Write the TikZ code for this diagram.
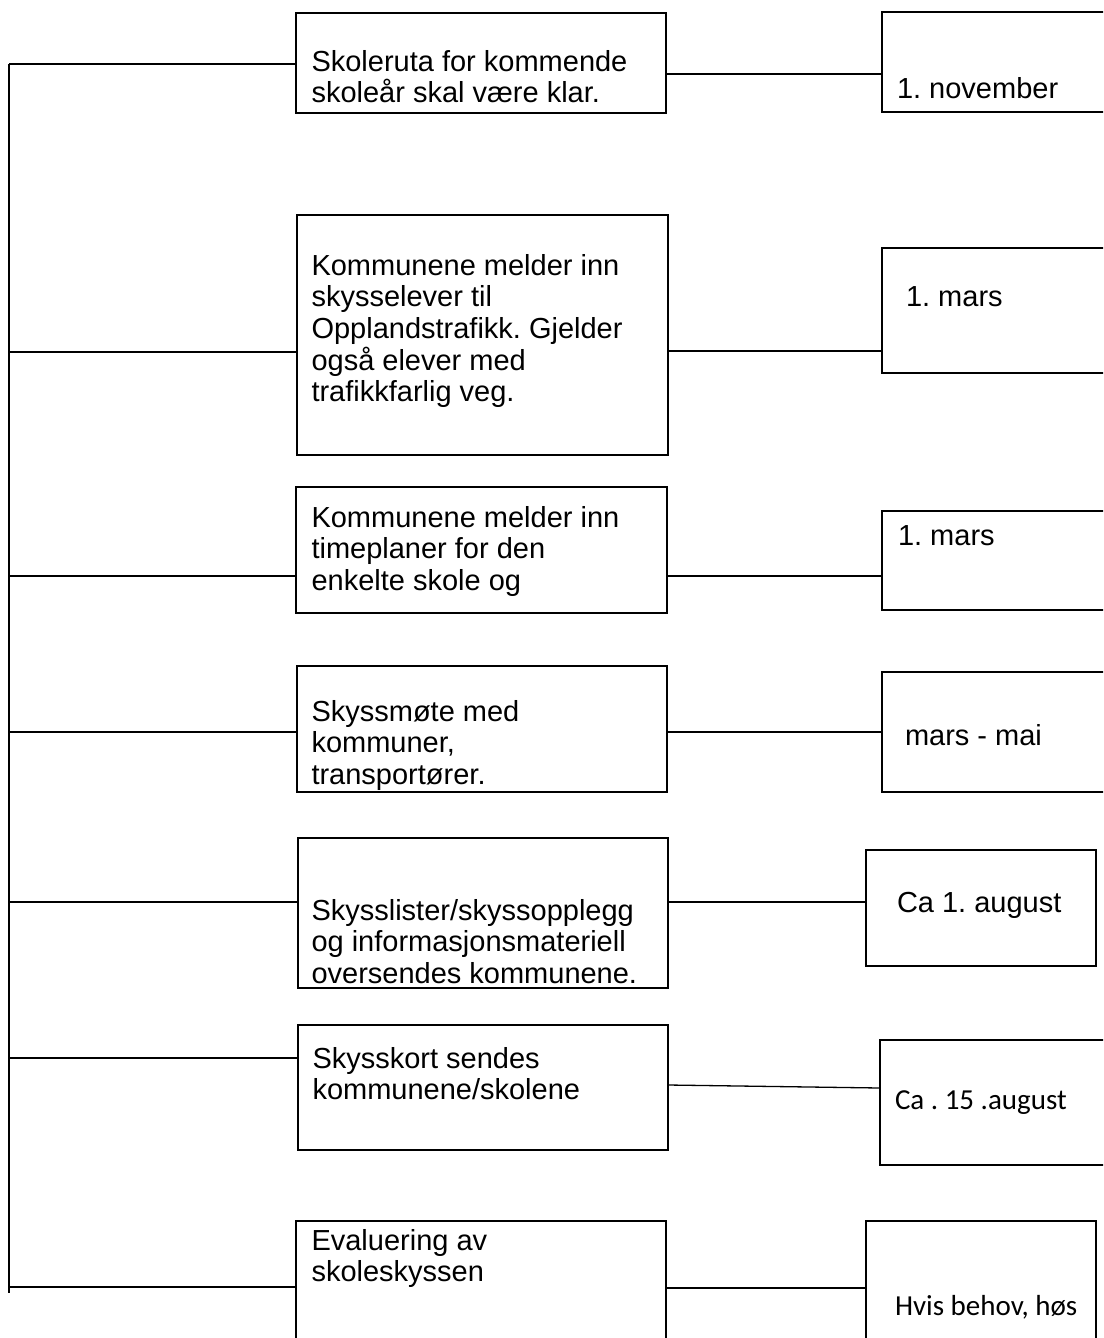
\documentclass[tikz,border=0pt]{standalone}
\usepackage{fontspec}
\setmainfont{Liberation Sans}
\newfontfamily\calib{Carlito}
\frenchspacing
\tikzset{
  box/.style={draw, line width=1.3pt, inner sep=0pt, outer sep=0pt, anchor=north west},
  txt/.style={inner sep=0pt, outer sep=0pt, anchor=base west, font=\fontsize{29}{31.7}\selectfont},
  ctxt/.style={inner sep=0pt, outer sep=0pt, anchor=base west, font=\calib\fontsize{29}{34}\selectfont},
  conn/.style={line width=1.3pt},
}
\newcommand{\tlines}[1]{\parbox[t]{400pt}{\raggedright\frenchspacing #1}}
\begin{document}
\begin{tikzpicture}[x=1pt,y=-1pt]
\clip (0,0) rectangle (1103,1338);
\fill[white] (0,0) rectangle (1103,1338);
% left column boxes
\node[box, minimum width=370pt, minimum height=100pt] (b1) at (296,13) {};
\node[box, minimum width=371pt, minimum height=240pt] (b2) at (297,215) {};
\node[box, minimum width=371pt, minimum height=126pt] (b3) at (296,487) {};
\node[box, minimum width=370pt, minimum height=126pt] (b4) at (297,666) {};
\node[box, minimum width=370pt, minimum height=150pt] (b5) at (298,838) {};
\node[box, minimum width=370pt, minimum height=125pt] (b6) at (298,1025) {};
\node[box, minimum width=370pt, minimum height=140pt] (b7) at (296,1221) {};
% right column boxes
\node[box, minimum width=228pt, minimum height=100pt] (r1) at (882,12) {};
\node[box, minimum width=228pt, minimum height=125pt] (r2) at (882,248) {};
\node[box, minimum width=228pt, minimum height=99pt] (r3) at (882,511) {};
\node[box, minimum width=228pt, minimum height=120pt] (r4) at (882,672) {};
\node[box, minimum width=230pt, minimum height=116pt] (r5) at (866,850) {};
\node[box, minimum width=230pt, minimum height=125pt] (r6) at (880,1040) {};
\node[box, minimum width=230pt, minimum height=140pt] (r7) at (866,1221) {};
% texts
\node[txt] (t1) at (311.5,71) {\tlines{Skoleruta for kommende\\skoleår skal være klar.}};
\node[txt] (t2) at (311.5,275) {\tlines{Kommunene melder inn\\skysselever til\\Opplandstrafikk. Gjelder\\også elever med\\trafikkfarlig veg.}};
\node[txt] (t3) at (311.5,527) {\tlines{Kommunene melder inn\\timeplaner for den\\enkelte skole og}};
\node[txt] (t4) at (311.5,721) {\tlines{Skyssmøte med\\kommuner,\\transportører.}};
\node[txt] (t5) at (311.5,920) {\tlines{Skysslister/skyssopplegg\\og informasjonsmateriell\\oversendes kommunene.}};
\node[txt] (t6) at (312.5,1068) {\tlines{Skysskort sendes\\kommunene/skolene}};
\node[txt] (t7) at (311.5,1250) {\tlines{Evaluering av\\skoleskyssen}};
\node[txt] (u1) at (897,99) {1. november};
\node[txt] (u2) at (906,306) {1. mars};
\node[txt] (u3) at (898,545) {1. mars};
\node[txt] (u4) at (905,745) {mars - mai};
\node[txt] (u5) at (897,912) {Ca 1. august};
\node[ctxt] (u6) at (895,1109) {Ca . 15 .august};
\node[ctxt] (u7) at (895,1315) {Hvis behov, høs};
% spine
\coordinate (s1) at (9,64);
\coordinate (s2) at (9,352);
\coordinate (s3) at (9,576);
\coordinate (s4) at (9,732);
\coordinate (s5) at (9,902);
\coordinate (s6) at (9,1058);
\coordinate (s7) at (9,1287);
\coordinate (send) at (9,1293);
\draw[conn] (s1) -- (send);
\foreach \i in {1,...,7} {\draw[conn] (s\i) -- (s\i -| b\i.west);}
% right connectors
\coordinate (c1) at (0,74);
\coordinate (c2) at (0,351);
\coordinate (c3) at (0,576);
\coordinate (c4) at (0,732);
\coordinate (c5) at (0,902);
\coordinate (c6a) at (0,1085);
\coordinate (c6b) at (0,1088);
\coordinate (c7) at (0,1288);
\draw[conn] (b1.east |- c1) -- (r1.west |- c1);
\draw[conn] (b2.east |- c2) -- (r2.west |- c2);
\draw[conn] (b3.east |- c3) -- (r3.west |- c3);
\draw[conn] (b4.east |- c4) -- (r4.west |- c4);
\draw[conn] (b5.east |- c5) -- (r5.west |- c5);
\draw[conn] (b6.east |- c6a) -- (r6.west |- c6b);
\draw[conn] (b7.east |- c7) -- (r7.west |- c7);
\end{tikzpicture}
\end{document}
